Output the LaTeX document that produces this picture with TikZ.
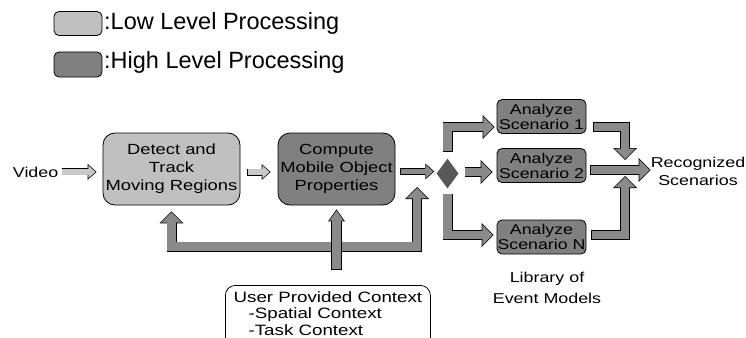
\documentclass[tikz,border=0pt]{standalone}
\usepackage{fontspec}
\setmainfont{Liberation Sans}
\newfontfamily\widefont[FakeStretch=1.25]{Liberation Sans}
\usetikzlibrary{arrows.meta,shapes.geometric}

\definecolor{lowgray}{HTML}{C0C0C0}
\definecolor{highgray}{HTML}{808080}
\definecolor{pipegray}{HTML}{8A8A8A}
\definecolor{inputgray}{HTML}{C8C8C8}
\definecolor{forkgray}{HTML}{585858}

\tikzset{
  lowbox/.style={draw, line width=0.8pt, rounded corners=12pt, fill=lowgray, minimum width=137pt, minimum height=72pt,
    inner sep=0pt, align=center, font=\widefont\fontsize{14.7}{18}\selectfont},
  highbox/.style={lowbox, fill=highgray, minimum width=117pt},
  scenbox/.style={draw, line width=0.8pt, rounded corners=5pt, fill=highgray, minimum width=89pt, minimum height=34pt,
    inner sep=0pt, align=center, font=\widefont\fontsize{14.2}{15}\selectfont},
  keybox/.style={draw, line width=0.8pt, rounded corners=5pt, minimum width=48pt, minimum height=24pt, inner sep=0pt},
  plaintext/.style={align=center, inner sep=0pt, font=\widefont\fontsize{14.3}{18}\selectfont},
  keytext/.style={anchor=base west, inner sep=0pt, font=\fontsize{23.5}{26}\selectfont},
  bigarrow/.style={draw=black, line width=10pt, -{Triangle[length=12pt,width=24pt,line width=0pt]},
    postaction={draw=pipegray, line width=8.6pt, -, shorten >=10.3pt, shorten <=0.7pt},
    postaction={draw=pipegray, line width=0.1pt, shorten >=1pt, shorten <=1pt,
      -{Triangle[length=10.3pt,width=20.6pt,line width=0pt]}}},
  stemarrow/.style={draw=black, line width=11pt, -{Triangle[length=12pt,width=17pt,line width=0pt]},
    postaction={draw=pipegray, line width=9.6pt, -, shorten >=10.3pt, shorten <=0.7pt},
    postaction={draw=pipegray, line width=0.1pt, shorten >=1.2pt, shorten <=1pt,
      -{Triangle[length=10.1pt,width=14.3pt,line width=0pt]}}},
  smallarrow/.style={draw=black, line width=7pt, -{Triangle[length=9pt,width=16pt,line width=0pt]},
    postaction={draw=#1, line width=5.6pt, -, shorten >=7.3pt, shorten <=0.7pt},
    postaction={draw=#1, line width=0.1pt, shorten >=1.05pt, shorten <=1pt,
      -{Triangle[length=7.25pt,width=12.9pt,line width=0pt]}}},
  smallarrow/.default=pipegray
}

\begin{document}
\begin{tikzpicture}[x=1pt, y=-1pt]
    \useasboundingbox (0,0) rectangle (746,337);
    \clip (0,0) rectangle (746,337);

    % Legend
    \node[keybox, fill=lowgray] (lowkey) at (78,23.5) {};
    \node[keytext] (lowtext) at (104,29.3) {:Low Level Processing};
    \node[keybox, fill=highgray, minimum height=25pt] (highkey) at (78,64.5) {};
    \node[keytext] (hightext) at (104,68.3) {:High Level Processing};

    % Processing chain
    \node[plaintext, anchor=base east] (video) at (58.5,177) {Video};
    \node[lowbox] (detect) at (171.5,169) {Detect and\\Track\\Moving Regions};
    \node[highbox] (compute) at (336.5,169) {Compute\\Mobile Object\\Properties};
    \node[diamond, aspect=0.73, fill=forkgray, minimum width=22pt, minimum height=30pt, inner sep=0pt]
        (fork) at (447.5,173.5) {};

    % Event models
    \node[scenbox] (scen1) at (541.5,116.5) {Analyze\\Scenario 1};
    \node[scenbox] (scen2) at (541.5,165.5) {Analyze\\Scenario 2};
    \node[scenbox] (scenN) at (541.5,237) {Analyze\\Scenario N};
    \node[plaintext, font=\widefont\fontsize{14.3}{21}\selectfont] (library) at (547,287.5) {Library of\\Event Models};
    \node[plaintext] (result) at (698,171) {Recognized\\Scenarios};

    % User context
    \node[draw, line width=0.8pt, rounded corners=10pt, anchor=north west, align=left, inner xsep=8pt, inner ysep=6pt,
        text depth=20pt, minimum width=205pt, font=\widefont\fontsize{15}{16.5}\selectfont] (context) at (225,285)
        {User Provided Context\\\hspace*{15pt}-Spatial Context\\\hspace*{15pt}-Task Context};
    \coordinate (feed) at (336.5,270);
    \coordinate (split) at (336.5,246.5);
    \coordinate (join) at (417,187);
    \coordinate (merge) at (625,170);

    % Arrows along the chain
    \draw[smallarrow=inputgray] ([xshift=3pt]video.east) -- ([xshift=-6pt]video.east -| detect.west);
    \draw[smallarrow=inputgray] ([xshift=7pt,yshift=-3pt]detect.east) -- ([xshift=-7pt,yshift=-3pt]compute.west);
    \draw[smallarrow] ([xshift=5pt,yshift=-2.5pt]compute.east) -- ([xshift=-2pt,yshift=-2.5pt]compute.east -| fork.west);

    % Fork to the scenarios
    \draw[bigarrow] ([yshift=6.5pt]fork.north) |- ([xshift=-2pt,yshift=-10.5pt]scen1.west);
    \draw[bigarrow] ([xshift=6pt,yshift=1.5pt]fork.east) -- ([xshift=-4pt,yshift=1.5pt]fork.east -| scen2.west);
    \draw[bigarrow] ([yshift=-5pt]fork.south) |- ([xshift=-3pt,yshift=2pt]scenN.west);

    % Scenarios to the result
    \draw[bigarrow] ([xshift=7pt,yshift=-10.5pt]scen1.east) -| ([yshift=10pt]merge);
    \draw[bigarrow] ([xshift=4pt]scen2.east |- merge) -- (result.west |- merge);
    \draw[bigarrow] ([xshift=5pt,yshift=2pt]scenN.east) -| ([yshift=-6pt]merge);

    % Context fed back
    \draw[bigarrow] (split) -| ([yshift=-6pt]detect.south);
    \draw[bigarrow] (split) -| (join);
    \draw[stemarrow] (feed) -- ([yshift=-4pt]compute.south);
\end{tikzpicture}
\end{document}
